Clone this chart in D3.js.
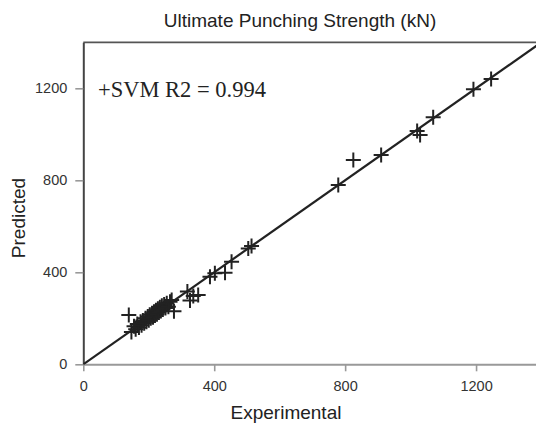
<!DOCTYPE html>
<html>
<head>
<meta charset="utf-8">
<script src="https://cdn.jsdelivr.net/npm/d3@7"></script>
<style>
  html, body { margin: 0; padding: 0; background: #fff; }
  svg { display: block; }
</style>
</head>
<body>
<svg id="chart" width="536" height="424"></svg>
<script>
// Experimental vs. predicted ultimate punching strength (kN)
const experimental = [
  139, 147, 155, 160, 165, 170, 175, 178, 182, 186, 190, 193, 197, 200, 203,
  206, 210, 213, 216, 219, 222, 225, 228, 231, 234, 237, 240, 243, 247, 251,
  255, 260, 265, 270, 277,
  318, 336, 351, 326, 387, 402, 433, 453, 504, 514,
  779, 825, 910, 1020, 1029, 1069, 1192, 1246
];
const predicted = [
  214, 140, 165, 152, 175, 160, 185, 170, 190, 178, 200, 185, 208, 192, 215,
  200, 222, 205, 228, 212, 235, 218, 242, 225, 248, 232, 255, 238, 260, 245,
  265, 250, 272, 280, 231,
  316, 297, 301, 277, 381, 396, 398, 446, 504, 514,
  780, 888, 910, 1014, 997, 1074, 1196, 1240
];
const xTicks = [0, 400, 800, 1200];
const yTicks = [0, 400, 800, 1200];
const titleText = "Ultimate Punching Strength (kN)";
const xLabel = "Experimental";
const yLabel = "Predicted";
const noteText = "+SVM R2 = 0.994";

const svg = d3.select("#chart");
const plotLeft = 83.3, plotBottom = 364.3, plotTop = 42.3;

const x = d3.scaleLinear().domain([0, 1400]).range([plotLeft, plotLeft + 1400 * 0.3273]);
const y = d3.scaleLinear().domain([0, 1400]).range([plotBottom, plotTop]);

const sans = "'Liberation Sans', Arial, sans-serif";
const fmt = d3.format("d");

// frame: top border
svg.append("line")
  .attr("x1", plotLeft).attr("x2", 540).attr("y1", plotTop).attr("y2", plotTop)
  .attr("stroke", "#555").attr("stroke-width", 1.8);

// x axis
const xAxis = svg.append("g")
  .attr("transform", `translate(0,${plotBottom})`)
  .call(d3.axisBottom(x).tickValues(xTicks).tickFormat(fmt).tickSize(7).tickPadding(9).tickSizeOuter(0));
xAxis.select(".domain").attr("stroke", "#999").attr("stroke-width", 2);
xAxis.selectAll(".tick line").attr("stroke", "#999").attr("stroke-width", 1.6);
xAxis.selectAll(".tick text").attr("font-family", sans).attr("font-size", 14.5).attr("fill", "#333");

// y axis
const yAxis = svg.append("g")
  .attr("transform", `translate(${plotLeft},0)`)
  .call(d3.axisLeft(y).tickValues(yTicks).tickFormat(fmt).tickSize(8).tickPadding(8).tickSizeOuter(0));
yAxis.select(".domain").attr("stroke", "#444").attr("stroke-width", 2);
yAxis.selectAll(".tick line").attr("stroke", "#999").attr("stroke-width", 1.6);
yAxis.selectAll(".tick text").attr("font-family", sans).attr("font-size", 14.5).attr("fill", "#333");

// clip for the plotting area
svg.append("clipPath").attr("id", "plot-clip")
  .append("rect").attr("x", plotLeft).attr("y", plotTop).attr("width", 600).attr("height", plotBottom - plotTop);

const plot = svg.append("g").attr("clip-path", "url(#plot-clip)");

// y = x reference line
plot.append("line")
  .attr("x1", x(0)).attr("y1", y(0)).attr("x2", x(1400)).attr("y2", y(1400))
  .attr("stroke", "#222").attr("stroke-width", 2.2);

// plus markers
const half = 7.5;
const pts = experimental.map((v, i) => [v, predicted[i]]);
const marks = plot.selectAll("g.pt").data(pts).join("g")
  .attr("class", "pt")
  .attr("transform", d => `translate(${x(d[0])},${y(d[1])})`);
marks.append("line").attr("x1", -half).attr("x2", half).attr("y1", 0).attr("y2", 0)
  .attr("stroke", "#222").attr("stroke-width", 2);
marks.append("line").attr("x1", 0).attr("x2", 0).attr("y1", -half).attr("y2", half)
  .attr("stroke", "#222").attr("stroke-width", 2);

// annotation
svg.append("text")
  .attr("x", 98).attr("y", 97)
  .attr("font-family", "'Liberation Serif', 'Times New Roman', serif")
  .attr("font-size", 22.5).attr("fill", "#222")
  .text(noteText);

// title
svg.append("text")
  .attr("x", 300).attr("y", 27).attr("text-anchor", "middle")
  .attr("font-family", sans).attr("font-size", 19).attr("fill", "#222")
  .text(titleText);

// axis titles
svg.append("text")
  .attr("x", 286).attr("y", 419).attr("text-anchor", "middle")
  .attr("font-family", sans).attr("font-size", 19).attr("fill", "#222")
  .text(xLabel);

svg.append("text")
  .attr("transform", "translate(25,218) rotate(-90)").attr("text-anchor", "middle")
  .attr("font-family", sans).attr("font-size", 19).attr("fill", "#222")
  .text(yLabel);
</script>
</body>
</html>
